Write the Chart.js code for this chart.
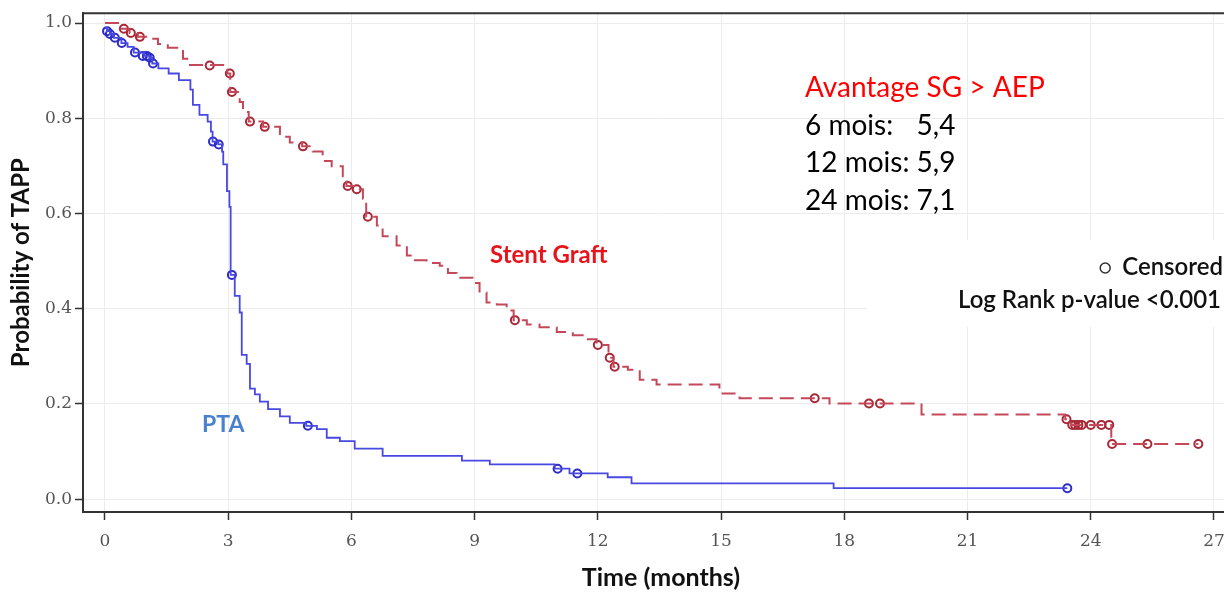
<!DOCTYPE html>
<html>
<head>
<meta charset="utf-8">
<script src="https://cdn.jsdelivr.net/npm/chart.js@4.4.1/dist/chart.umd.min.js"></script>
<style>
  html, body { margin: 0; padding: 0; background: #fff; overflow: hidden; }
  #wrap { width: 1260px; height: 594px; }
</style>
</head>
<body>
<div id="wrap"><canvas id="c" width="1260" height="594"></canvas></div>
<script>
// ---------------- DATA ----------------
const xTicks = [0, 3, 6, 9, 12, 15, 18, 21, 24, 27];
const yTicks = [0.0, 0.2, 0.4, 0.6, 0.8, 1.0];

// PTA (Kaplan-Meier steps: time of event, survival after event)
const ptaTimes = [0, 0.05, 0.12, 0.22, 0.40, 0.55, 0.70, 0.95, 1.08, 1.15, 1.30, 1.55, 1.80, 2.08, 2.14, 2.30, 2.50, 2.58, 2.62, 2.76, 2.85, 2.88, 2.97, 3.03, 3.06, 3.16, 3.28, 3.33, 3.45, 3.53, 3.65, 3.77, 3.97, 4.26, 4.50, 4.90, 5.16, 5.40, 5.72, 6.08, 6.76, 8.69, 9.37, 10.95, 11.31, 12.24, 12.82, 17.74, 23.43];
const ptaSurv  = [0.990, 0.983, 0.977, 0.969, 0.958, 0.950, 0.938, 0.931, 0.927, 0.915, 0.905, 0.894, 0.880, 0.860, 0.828, 0.807, 0.793, 0.772, 0.751, 0.745, 0.730, 0.703, 0.647, 0.614, 0.471, 0.427, 0.392, 0.303, 0.284, 0.232, 0.220, 0.205, 0.189, 0.174, 0.160, 0.154, 0.147, 0.129, 0.122, 0.106, 0.091, 0.081, 0.073, 0.064, 0.054, 0.046, 0.033, 0.023, 0.023];
const ptaCensTimes = [0.05, 0.12, 0.24, 0.41, 0.73, 0.92, 1.02, 1.09, 1.17, 2.63, 2.77, 3.09, 4.94, 11.02, 11.50, 23.43];
const ptaCensSurv  = [0.983, 0.977, 0.969, 0.958, 0.938, 0.931, 0.931, 0.927, 0.915, 0.751, 0.745, 0.471, 0.154, 0.064, 0.054, 0.023];

// Stent Graft
const sgTimes = [0, 0.40, 0.60, 0.80, 1.09, 1.29, 1.53, 1.90, 2.07, 2.98, 3.05, 3.28, 3.36, 3.50, 3.85, 4.26, 4.50, 4.80, 5.06, 5.30, 5.52, 5.79, 5.88, 6.10, 6.28, 6.36, 6.62, 6.76, 7.10, 7.35, 7.49, 7.83, 8.15, 8.35, 8.56, 8.95, 9.12, 9.29, 9.54, 9.78, 9.95, 10.27, 10.58, 11.00, 11.39, 11.73, 11.97, 12.26, 12.38, 12.73, 13.02, 13.43, 14.96, 15.45, 17.64, 19.88, 23.38, 23.52, 24.50, 26.62];
const sgSurv  = [1.000, 0.988, 0.979, 0.971, 0.967, 0.956, 0.948, 0.925, 0.912, 0.894, 0.855, 0.834, 0.813, 0.793, 0.782, 0.761, 0.749, 0.741, 0.730, 0.710, 0.699, 0.678, 0.658, 0.651, 0.631, 0.593, 0.575, 0.552, 0.533, 0.512, 0.502, 0.496, 0.490, 0.475, 0.465, 0.454, 0.434, 0.413, 0.409, 0.396, 0.376, 0.367, 0.361, 0.351, 0.344, 0.336, 0.324, 0.297, 0.278, 0.272, 0.251, 0.241, 0.222, 0.212, 0.201, 0.178, 0.168, 0.156, 0.116, 0.116];
const sgCensTimes = [0.46, 0.63, 0.85, 2.55, 3.04, 3.09, 3.53, 3.89, 4.82, 5.91, 6.13, 6.40, 9.98, 12.00, 12.29, 12.41, 17.28, 18.60, 18.87, 23.41, 23.55, 23.62, 23.70, 23.78, 24.00, 24.26, 24.45, 24.52, 25.38, 26.62];
const sgCensSurv  = [0.988, 0.979, 0.971, 0.911, 0.894, 0.855, 0.793, 0.782, 0.741, 0.658, 0.651, 0.593, 0.376, 0.324, 0.297, 0.278, 0.212, 0.201, 0.201, 0.168, 0.156, 0.156, 0.156, 0.156, 0.156, 0.156, 0.156, 0.116, 0.116, 0.116];

const seriesNames = ["PTA", "Stent Graft"];
const infoTitle = "Avantage SG > AEP";
const infoRows = [["6 mois:", "5,4"], ["12 mois:", "5,9"], ["24 mois:", "7,1"]];
const legendCensored = "Censored";
const pValueText = "Log Rank p-value <0.001";

// ---------------- HELPERS ----------------
const pts = (xs, ys) => xs.map((x, i) => ({ x: x, y: ys[i] }));

const BLUE = '#4848e2', BLUE_DARK = '#2c2cc8';
const RED = '#c4485a', RED_DARK = '#a82836';
const SANS = 'Lato, "Open Sans", sans-serif';

const overlay = {
  id: 'overlay',
  beforeDatasetsDraw(chart) {
    const ctx = chart.ctx;
    ctx.save();
    ctx.fillStyle = '#ffffff';
    ctx.fillRect(867, 240, 400, 87);
    ctx.restore();
  },
  afterDraw(chart) {
    const ctx = chart.ctx;
    const a = chart.chartArea;
    ctx.save();
    // top frame line
    ctx.strokeStyle = '#333';
    ctx.lineWidth = 2;
    ctx.beginPath();
    ctx.moveTo(a.left - 1, a.top);
    ctx.lineTo(a.right, a.top);
    ctx.stroke();

    // curve labels
    ctx.textBaseline = 'alphabetic';
    ctx.textAlign = 'left';
    ctx.font = 'bold 24px ' + SANS;
    ctx.fillStyle = '#e8141c';
    ctx.fillText(seriesNames[1], 490, 263);
    ctx.font = 'bold 23px ' + SANS;
    ctx.fillStyle = '#4a80d0';
    ctx.fillText(seriesNames[0], 202, 432);

    // info block
    ctx.font = '28px ' + SANS;
    ctx.fillStyle = '#ff0000';
    ctx.fillText(infoTitle, 805, 97);
    ctx.fillStyle = '#000';
    const valX = 805 + ctx.measureText(infoRows[1][0] + ' ').width;
    const bases = [135, 172, 210];
    infoRows.forEach((r, i) => {
      ctx.fillText(r[0], 805, bases[i]);
      ctx.fillText(r[1], valX, bases[i]);
    });

    // legend
    ctx.font = '600 24px ' + SANS;
    ctx.fillStyle = '#111';
    ctx.textAlign = 'right';
    ctx.fillText(legendCensored, 1223, 275);
    const cw = ctx.measureText(legendCensored).width;
    ctx.beginPath();
    ctx.strokeStyle = '#333';
    ctx.lineWidth = 1.5;
    ctx.arc(1223 - cw - 17, 268, 5, 0, Math.PI * 2);
    ctx.stroke();
    ctx.fillText(pValueText, 1221, 308);
    ctx.restore();
  }
};

new Chart(document.getElementById('c'), {
  type: 'line',
  data: {
    datasets: [
      {
        label: seriesNames[0],
        data: pts(ptaTimes, ptaSurv),
        stepped: true,
        borderColor: BLUE,
        borderWidth: 1.8,
        pointRadius: 0,
        fill: false
      },
      {
        label: seriesNames[1],
        data: pts(sgTimes, sgSurv),
        stepped: true,
        borderColor: RED,
        borderWidth: 2,
        borderDash: [14, 7],
        pointRadius: 0,
        fill: false
      },
      {
        label: seriesNames[0] + ' censored',
        data: pts(ptaCensTimes, ptaCensSurv),
        showLine: false,
        pointStyle: 'circle',
        pointRadius: 4,
        pointBorderWidth: 2,
        pointBorderColor: BLUE_DARK,
        pointBackgroundColor: 'rgba(0,0,0,0)'
      },
      {
        label: seriesNames[1] + ' censored',
        data: pts(sgCensTimes, sgCensSurv),
        showLine: false,
        pointStyle: 'circle',
        pointRadius: 4,
        pointBorderWidth: 2,
        pointBorderColor: RED_DARK,
        pointBackgroundColor: 'rgba(0,0,0,0)'
      }
    ]
  },
  options: {
    responsive: false,
    animation: false,
    devicePixelRatio: 1,
    layout: { padding: { left: 0, top: 7, right: 21, bottom: 0 } },
    plugins: { legend: { display: false }, tooltip: { enabled: false } },
    scales: {
      x: {
        type: 'linear',
        min: -0.535,
        max: 27.61,
        afterBuildTicks: s => { s.ticks = xTicks.map(v => ({ value: v })); },
        afterFit: s => { s.height = 82; },
        ticks: {
          font: { family: '"DejaVu Serif", serif', size: 17 },
          color: '#555',
          padding: 11,
          callback: v => String(v)
        },
        grid: { color: '#ececec', lineWidth: 1, tickColor: '#333', tickLength: 8, tickWidth: 1.5 },
        border: { color: '#333', width: 2 },
        title: {
          display: true,
          text: 'Time (months)',
          font: { family: SANS, size: 25, weight: 'bold' },
          color: '#111',
          padding: { top: 0, bottom: 1 }
        }
      },
      y: {
        type: 'linear',
        min: -0.027,
        max: 1.0207,
        afterBuildTicks: s => { s.ticks = yTicks.map(v => ({ value: v })); },
        afterFit: s => { s.width = 83; },
        ticks: {
          font: { family: '"DejaVu Serif", serif', size: 17 },
          color: '#555',
          padding: 3,
          callback: v => v.toFixed(1)
        },
        grid: { color: '#ececec', lineWidth: 1, tickColor: '#333', tickLength: 8, tickWidth: 1.5 },
        border: { color: '#333', width: 2 },
        title: {
          display: true,
          text: 'Probability of TAPP',
          font: { family: SANS, size: 24, weight: 'bold' },
          color: '#111',
          padding: { top: 7, bottom: 0 }
        }
      }
    }
  },
  plugins: [overlay]
});
</script>
</body>
</html>
